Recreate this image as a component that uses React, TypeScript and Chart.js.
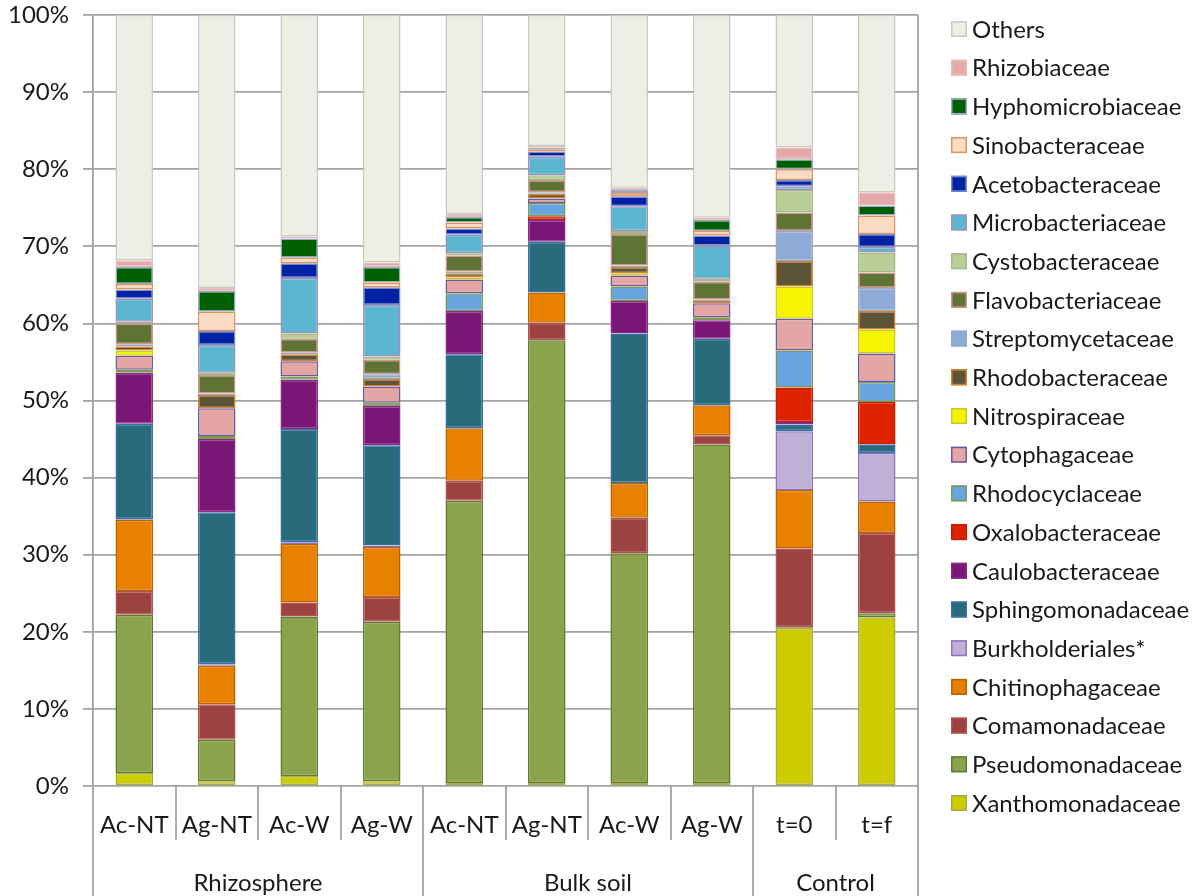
import { useEffect, useRef } from 'react';
import { Chart, registerables } from 'chart.js';

Chart.register(...registerables);

// Sample names along the x axis, and how they are grouped underneath
const sampleLabels = ['Ac-NT', 'Ag-NT', 'Ac-W', 'Ag-W', 'Ac-NT', 'Ag-NT', 'Ac-W', 'Ag-W', 't=0', 't=f'];
const groupNames = ['Rhizosphere', 'Bulk soil', 'Control'];
const groupSizes = [4, 4, 2];

// Relative abundance (%) of each family per sample, stacked bottom to top
const xanthomonadaceae = [1.7, 0.6, 1.3, 0.6, 0.4, 0.4, 0.4, 0.4, 20.5, 21.9];
const pseudomonadaceae = [20.5, 5.4, 20.7, 20.7, 36.6, 57.4, 29.8, 43.9, 0.1, 0.5];
const comamonadaceae = [3.1, 4.6, 1.8, 3.2, 2.6, 2.3, 4.6, 1.2, 10.2, 10.4];
const chitinophagaceae = [9.2, 5.0, 7.6, 6.5, 6.8, 3.9, 4.5, 3.9, 7.6, 4.1];
const burkholderiales = [0.1, 0.2, 0.2, 0.2, 0, 0, 0, 0, 7.6, 6.3];
const sphingomonadaceae = [12.4, 19.7, 14.7, 13.0, 9.6, 6.6, 19.4, 8.6, 0.9, 1.1];
const caulobacteraceae = [6.6, 9.5, 6.4, 5.1, 5.6, 2.8, 4.2, 2.4, 0.3, 0];
const oxalobacteraceae = [0, 0, 0, 0, 0, 0.5, 0, 0, 4.5, 5.5];
const rhodocyclaceae = [0.4, 0.4, 0.4, 0.4, 2.3, 1.7, 1.9, 0.4, 4.8, 2.6];
const cytophagaceae = [1.8, 3.6, 2.0, 2.1, 1.8, 0.6, 1.4, 1.8, 4.1, 3.7];
const nitrospiraceae = [0.7, 0, 0, 0, 0.3, 0, 0.3, 0, 4.2, 3.1];
const rhodobacteraceae = [0.5, 1.7, 0.9, 1.0, 0.5, 0.6, 0.8, 0.3, 3.3, 2.4];
const streptomycetaceae = [0.3, 0.2, 0.2, 0.6, 0.2, 0.2, 0.2, 0.2, 3.9, 3.0];
const flavobacteriaceae = [2.7, 2.4, 1.8, 1.9, 2.1, 1.6, 4.1, 2.3, 2.4, 2.0];
const cystobacteraceae = [0.2, 0.3, 0.7, 0.4, 0.3, 0.6, 0.4, 0.4, 2.9, 2.6];
const microbacteriaceae = [3.0, 3.6, 7.2, 6.7, 2.4, 2.4, 3.2, 4.3, 0.5, 0.7];
const acetobacteraceae = [1.2, 1.8, 1.9, 2.3, 0.8, 0.7, 1.3, 1.3, 0.8, 1.7];
const sinobacteraceae = [0.7, 2.5, 0.7, 0.6, 0.8, 0.3, 0.4, 0.6, 1.4, 2.4];
const hyphomicrobiaceae = [2.2, 2.7, 2.5, 2.0, 0.7, 0.2, 0.4, 1.4, 1.3, 1.3];
const rhizobiaceae = [0.9, 0.4, 0.3, 0.6, 0.4, 0.2, 0.3, 0.3, 1.5, 1.7];
const others = [31.8, 35.4, 28.7, 32.1, 25.8, 17.0, 22.4, 26.3, 17.2, 23.0];

// [legend label, values, fill colour, outline colour]
const families: [string, number[], string, string][] = [
  ['Xanthomonadaceae', xanthomonadaceae, '#CCCC00', '#ABAB45'],
  ['Pseudomonadaceae', pseudomonadaceae, '#8BA34B', '#5F7A33'],
  ['Comamonadaceae', comamonadaceae, '#9C4341', '#B4524F'],
  ['Chitinophagaceae', chitinophagaceae, '#E88000', '#B86300'],
  ['Burkholderiales*', burkholderiales, '#BFB1D5', '#8E72C0'],
  ['Sphingomonadaceae', sphingomonadaceae, '#286B7B', '#3A6FAE'],
  ['Caulobacteraceae', caulobacteraceae, '#7A1776', '#8A2A86'],
  ['Oxalobacteraceae', oxalobacteraceae, '#DD2200', '#C21E00'],
  ['Rhodocyclaceae', rhodocyclaceae, '#68A4DE', '#7E9C4C'],
  ['Cytophagaceae', cytophagaceae, '#E3A6A5', '#6C58A2'],
  ['Nitrospiraceae', nitrospiraceae, '#F5F500', '#C8C830'],
  ['Rhodobacteraceae', rhodobacteraceae, '#5B5436', '#D9802B'],
  ['Streptomycetaceae', streptomycetaceae, '#8EAAD6', '#9AA8C8'],
  ['Flavobacteriaceae', flavobacteriaceae, '#5F7434', '#D19493'],
  ['Cystobacteraceae', cystobacteraceae, '#BACF98', '#A6B888'],
  ['Microbacteriaceae', microbacteriaceae, '#5BB7D0', '#A38EBF'],
  ['Acetobacteraceae', acetobacteraceae, '#0222A6', '#7F90C4'],
  ['Sinobacteraceae', sinobacteraceae, '#FBDBC3', '#E3935C'],
  ['Hyphomicrobiaceae', hyphomicrobiaceae, '#005F00', '#9AAAC8'],
  ['Rhizobiaceae', rhizobiaceae, '#E6A9A9', '#E8BDBD'],
  ['Others', others, '#EEEEE6', '#C6CBBE'],
];

const FONT = 'Lato, "Open Sans", sans-serif';
const TEXT = '#1a1a1a';
const GRID = '#A3A3A3';

// Two-row category axis (samples, then groups) plus the legend column
const axisAndLegend = {
  id: 'axisAndLegend',
  afterDraw(chart: any) {
    const { ctx, chartArea: area, scales } = chart;
    const x = scales.x;
    const n = sampleLabels.length;
    const step = x.getPixelForValue(1) - x.getPixelForValue(0);
    const H = chart.height;
    const groupEdges = new Set<number>([0]);
    let acc = 0;
    groupSizes.forEach((s) => { acc += s; groupEdges.add(acc); });

    ctx.save();
    ctx.strokeStyle = GRID;
    ctx.lineWidth = 1.8;
    for (let i = 0; i <= n; i++) {
      const px = Math.round(x.getPixelForValue(Math.min(i, n - 1)) + (i < n ? -step / 2 : step / 2));
      const isGroup = groupEdges.has(i);
      const y0 = i === n ? area.top : area.bottom;
      const y1 = isGroup ? H : area.bottom + 54;
      ctx.beginPath();
      ctx.moveTo(px, y0);
      ctx.lineTo(px, y1);
      ctx.stroke();
    }

    ctx.fillStyle = TEXT;
    ctx.textAlign = 'center';
    ctx.textBaseline = 'middle';
    ctx.font = `24px ${FONT}`;
    sampleLabels.forEach((lab, i) => {
      ctx.fillText(lab, x.getPixelForValue(i), area.bottom + 39);
    });
    let start = 0;
    groupNames.forEach((g, gi) => {
      const end = start + groupSizes[gi] - 1;
      const cx = (x.getPixelForValue(start) + x.getPixelForValue(end)) / 2;
      ctx.fillText(g, cx, area.bottom + 97);
      start += groupSizes[gi];
    });

    // Legend, top entry is the last stacked series
    ctx.textAlign = 'left';
    const datasets = chart.data.datasets;
    for (let i = 0; i < datasets.length; i++) {
      const ds = datasets[datasets.length - 1 - i];
      const cy = 29 + i * 38.7;
      const bx = area.right + 33;
      ctx.fillStyle = ds.backgroundColor;
      ctx.fillRect(bx, cy - 8, 16, 16);
      ctx.strokeStyle = ds.borderColor;
      ctx.lineWidth = 1.5;
      ctx.strokeRect(bx + 0.75, cy - 7.25, 14.5, 14.5);
      ctx.fillStyle = TEXT;
      ctx.fillText(ds.label, area.right + 54, cy + 1);
    }
    ctx.restore();
  },
};

export default function App() {
  const canvasRef = useRef<HTMLCanvasElement | null>(null);

  useEffect(() => {
    if (!canvasRef.current) return;
    const chart = new Chart(canvasRef.current, {
      type: 'bar',
      data: {
        labels: sampleLabels,
        datasets: families.map(([label, values, fill, line]) => ({
          label,
          data: values,
          backgroundColor: fill,
          borderColor: line,
          borderWidth: 1.5,
          borderSkipped: false,
          barPercentage: 0.455,
          categoryPercentage: 1,
        })),
      },
      options: {
        responsive: true,
        maintainAspectRatio: false,
        animation: false,
        layout: { padding: { top: 15, right: 284, bottom: 0, left: 0 } },
        plugins: {
          legend: { display: false },
          tooltip: { enabled: false },
        },
        scales: {
          x: {
            stacked: true,
            ticks: { display: false },
            grid: { display: false },
            border: { display: false },
            afterFit: (scale: any) => {
              scale.height = 110;
              scale.paddingLeft = 0;
              scale.paddingRight = 0;
            },
          },
          y: {
            stacked: true,
            min: 0,
            max: 100,
            ticks: {
              stepSize: 10,
              callback: (v: any) => `${v}%`,
              font: { family: FONT, size: 24 },
              color: TEXT,
              padding: 14,
            },
            grid: { color: GRID, lineWidth: 1.8, tickLength: 10 },
            border: { display: true, color: GRID, width: 1.8 },
            afterFit: (scale: any) => {
              scale.width = 93;
              scale.paddingTop = 0;
              scale.paddingBottom = 0;
            },
          },
        },
      },
      plugins: [axisAndLegend],
    });
    return () => chart.destroy();
  }, []);

  return (
    <div style={{ position: 'fixed', left: 0, top: 0, width: 1202, height: 896, background: '#fff' }}>
      <canvas ref={canvasRef} />
    </div>
  );
}
